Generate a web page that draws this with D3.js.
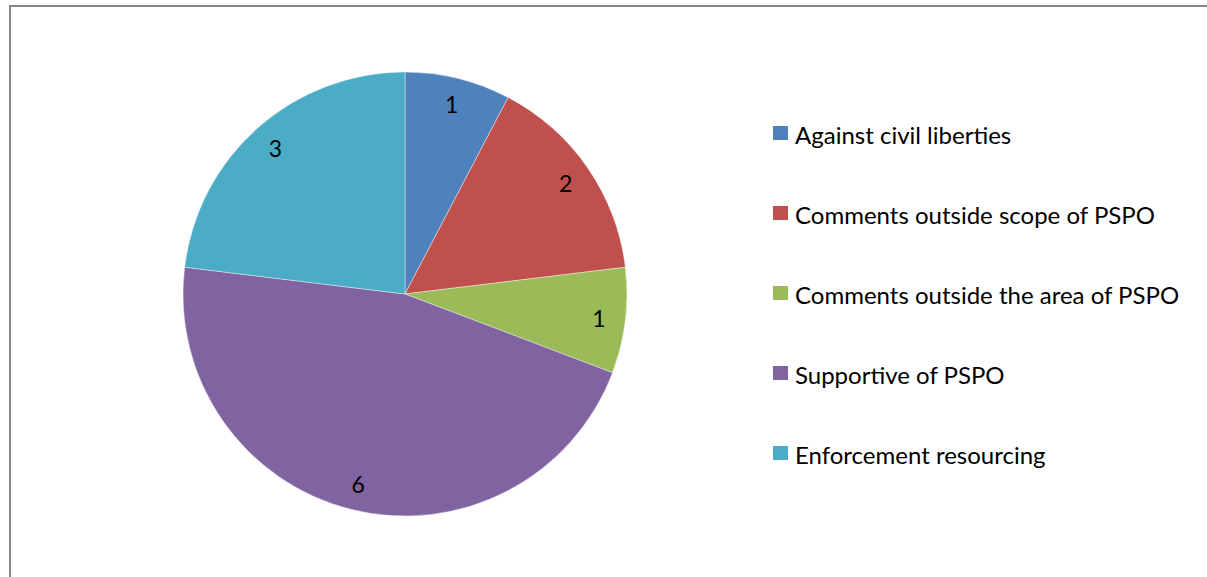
<!DOCTYPE html>
<html>
<head>
<meta charset="utf-8">
<script src="https://cdn.jsdelivr.net/npm/d3@7"></script>
<style>
  html, body { margin: 0; padding: 0; background: #fff; }
  svg { display: block; }
  text { font-family: Lato, "Open Sans", sans-serif; fill: #000; }
</style>
</head>
<body>
<svg id="chart" width="1207" height="577"></svg>
<script>
const categories = ["Against civil liberties", "Comments outside scope of PSPO", "Comments outside the area of PSPO", "Supportive of PSPO", "Enforcement resourcing"];
const values = [1, 2, 1, 6, 3];
const colors = ["#4F81BD", "#C0504D", "#9BBB59", "#8064A2", "#4BACC6"];

const svg = d3.select("#chart");
const W = 1207, H = 577;

// frame
svg.append("rect")
  .attr("x", 10).attr("y", 6)
  .attr("width", W + 10).attr("height", H + 10)
  .attr("fill", "#fff").attr("stroke", "#888").attr("stroke-width", 2);

const cx = 405, cy = 294, r = 222;
const data = categories.map((c, i) => ({ name: c, value: values[i], color: colors[i] }));

const pie = d3.pie().value(d => d.value).sort(null);
const arc = d3.arc().innerRadius(0).outerRadius(r);
const labelArc = d3.arc().innerRadius(r * 0.88).outerRadius(r * 0.88);

const g = svg.append("g").attr("transform", `translate(${cx},${cy})`);
const arcs = pie(data);

g.selectAll("path.slice").data(arcs).enter().append("path")
  .attr("class", "slice")
  .attr("d", arc)
  .attr("fill", d => d.data.color)
  .attr("stroke", "rgba(255,255,255,0.4)")
  .attr("stroke-width", 1);

g.selectAll("text.lbl").data(arcs).enter().append("text")
  .attr("class", "lbl")
  .attr("transform", d => `translate(${labelArc.centroid(d)})`)
  .attr("text-anchor", "middle")
  .attr("dominant-baseline", "central")
  .attr("font-size", 23)
  .text(d => d.data.value);

// legend
const legendY = d3.scalePoint().domain(categories).range([133, 453]);
const lg = svg.append("g");
const items = lg.selectAll("g.item").data(data).enter().append("g")
  .attr("class", "item")
  .attr("transform", d => `translate(773,${legendY(d.name)})`);
items.append("rect")
  .attr("x", 0).attr("y", -7).attr("width", 15).attr("height", 14)
  .attr("fill", d => d.color);
items.append("text")
  .attr("x", 22).attr("y", 1)
  .attr("dominant-baseline", "central")
  .attr("font-size", 24)
  .text(d => d.name);
</script>
</body>
</html>
